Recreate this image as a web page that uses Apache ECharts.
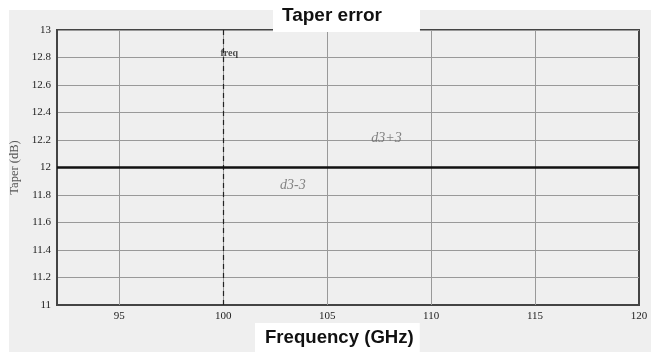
<!DOCTYPE html>
<html>
<head>
<meta charset="utf-8">
<script src="https://cdn.jsdelivr.net/npm/echarts@6/dist/echarts.min.js"></script>
<style>
  html, body { margin: 0; padding: 0; background: #fff; }
  #chart { width: 657px; height: 352px; }
</style>
</head>
<body>
<div id="chart"></div>
<script>
// Taper error vs frequency
const xMin = 92
const xMax = 120
const yMin = 11
const yMax = 13
const xGridLines = [95, 100, 105, 110, 115]
const taperLine = [[92, 12], [120, 12]]
const freqMarker = 100
const freqLabel = 'freq'
const noteLabels = ['d3+3', 'd3-3']
const noteX = [107.85, 103.35]
const noteY = [12.21, 11.87]

const serif = '"Liberation Serif", "DejaVu Serif", serif'
const sans = '"Liberation Sans", Arial, sans-serif'

const chart = echarts.init(document.getElementById('chart'))
chart.setOption({
  animation: false,
  backgroundColor: '#fff',
  graphic: [
    { type: 'rect', z: -10, shape: { x: 9, y: 10, width: 642, height: 342 }, style: { fill: '#efefef' } },
  ],
  title: [
    {
      text: 'Taper error',
      left: 273, top: 0,
      backgroundColor: '#fff',
      padding: [6, 38, 7, 9],
      textStyle: { fontFamily: sans, fontSize: 19, fontWeight: 'bold', color: '#111' },
      z: 20,
    },
    {
      text: 'Frequency (GHz)',
      left: 255, top: 323,
      backgroundColor: '#fff',
      padding: [5, 6, 5, 10],
      textStyle: { fontFamily: sans, fontSize: 18.6, fontWeight: 'bold', color: '#111' },
      z: 20,
    },
  ],
  grid: {
    left: 57, right: 18, top: 30, bottom: 47,
    outerBoundsMode: 'none',
    show: true, borderColor: '#444', borderWidth: 2, backgroundColor: 'transparent',
  },
  xAxis: {
    type: 'value', min: xMin, max: xMax, interval: 1,
    axisLine: { show: true, lineStyle: { color: '#444', width: 2 } },
    axisTick: { show: false },
    splitLine: { show: false },
    axisLabel: {
      margin: 6, fontFamily: serif, fontSize: 11, color: '#222',
      formatter: (v) => (v % 5 === 0 ? String(v) : ''),
    },
  },
  yAxis: {
    type: 'value', min: yMin, max: yMax, interval: 0.2,
    name: 'Taper (dB)', nameLocation: 'middle', nameGap: 34,
    nameTextStyle: { fontFamily: serif, fontSize: 12.5, color: '#555' },
    axisLine: { show: true, lineStyle: { color: '#444', width: 2 } },
    axisTick: { show: false },
    splitLine: { lineStyle: { color: '#999', width: 1 } },
    axisLabel: {
      margin: 6, fontFamily: serif, fontSize: 11, color: '#222',
      formatter: (v) => String(Math.round(v * 10) / 10),
    },
  },
  series: [
    {
      name: 'taper',
      type: 'line',
      data: taperLine,
      symbol: 'none',
      lineStyle: { color: '#111', width: 2.5 },
      z: 5,
      markLine: {
        silent: true,
        symbol: 'none',
        label: { show: false },
        data: xGridLines.map((x) => ({ xAxis: x })),
        lineStyle: { type: 'solid', color: '#999', width: 1 },
      },
    },
    {
      name: 'freq',
      type: 'line',
      data: [],
      markLine: {
        silent: true,
        symbol: 'none',
        label: { show: false },
        data: [{ xAxis: freqMarker }],
        lineStyle: { type: [5, 4], color: '#222', width: 1.2 },
      },
    },
    {
      name: 'labels',
      type: 'scatter',
      symbolSize: 0,
      data: [
        { value: [freqMarker, 12.83, freqLabel], label: { fontStyle: 'normal', fontWeight: 'bold', fontSize: 10, color: '#222', offset: [6, 0] } },
      ].concat(noteLabels.map((t, i) => ({ value: [noteX[i], noteY[i], t] }))),
      label: {
        show: true,
        position: 'inside',
        formatter: (p) => p.value[2],
        fontFamily: serif,
        fontStyle: 'italic',
        fontSize: 14,
        color: '#666',
      },
      z: 6,
    },
  ],
})
</script>
</body>
</html>
